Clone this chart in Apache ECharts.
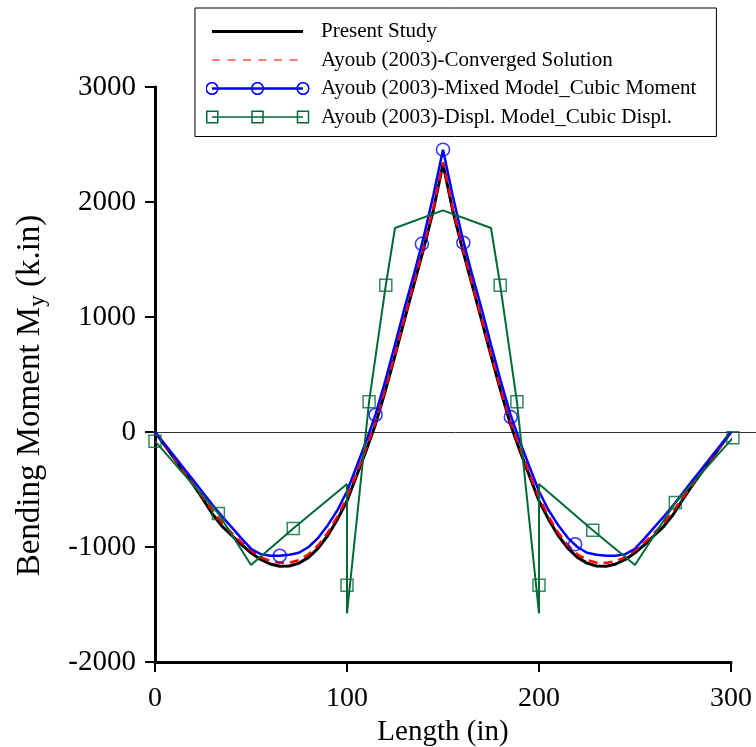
<!DOCTYPE html>
<html>
<head>
<meta charset="utf-8">
<script src="https://cdn.jsdelivr.net/npm/echarts@6/dist/echarts.min.js"></script>
<style>html,body{margin:0;padding:0;background:#fff}#c{width:756px;height:747px}</style>
</head>
<body>
<div id="c"></div>
<script>
// ---- data ----
var seriesNames = ['Present Study', 'Ayoub (2003)-Converged Solution', 'Ayoub (2003)-Mixed Model_Cubic Moment', 'Ayoub (2003)-Displ. Model_Cubic Displ.'];
var xTicks = [0, 100, 200, 300];
var yTicks = [-2000, -1000, 0, 1000, 2000, 3000];

var gridX = [0,5,10,15,20,25,30,35,40,45,50,55,60,65,70,75,80,85,90,95,100,105,110,115,120,125,130,135,140,145,150,
             155,160,165,170,175,180,185,190,195,200,205,210,215,220,225,230,235,240,245,250,255,260,265,270,275,280,285,290,295,300];

var presentY = [0,-115,-230,-345,-460,-585,-715,-820,-900,-980,-1050,-1108,-1148,-1168,-1165,-1140,-1090,-1010,-900,-760,-600,-380,-160,75,360,665,980,1290,1600,1930,2330,
                1930,1600,1290,980,665,360,75,-160,-380,-600,-760,-900,-1010,-1090,-1140,-1165,-1168,-1148,-1108,-1050,-980,-900,-820,-715,-585,-460,-345,-230,-115,0];

var convergedY = [0,-112,-225,-338,-452,-568,-685,-790,-880,-960,-1030,-1088,-1122,-1138,-1136,-1113,-1063,-985,-875,-735,-570,-360,-140,95,375,680,995,1305,1620,1950,2345,
                  1950,1620,1305,995,680,375,95,-140,-360,-570,-735,-875,-985,-1063,-1113,-1136,-1138,-1122,-1088,-1030,-960,-880,-790,-685,-568,-452,-338,-225,-112,0];

var mixedY = [0,-105,-210,-315,-420,-528,-635,-735,-830,-925,-1015,-1062,-1077,-1076,-1068,-1050,-1000,-920,-810,-680,-515,-300,-80,160,450,760,1080,1380,1700,2060,2455,
              2060,1700,1380,1080,760,450,160,-80,-300,-515,-680,-810,-920,-1000,-1050,-1068,-1076,-1077,-1062,-1015,-925,-830,-735,-635,-528,-420,-315,-210,-105,0];
var mixedMarkX = [65, 114.9, 139, 150, 160.6, 185.3, 218.8];
var mixedMarkY = [-1076, 150, 1636, 2455, 1646, 130, -976];

var displX = [0, 33, 50, 72, 100, 100, 100, 111.5, 120.2, 125, 150, 175, 179.8, 188.5, 200, 200, 200, 228, 250, 271, 301];
var displY = [-80, -709, -1157, -839, -453, -1332, -1577, 264, 1276, 1774, 1927, 1774, 1276, 264, -1577, -1332, -453, -854, -1157, -614, -49];
var displMarkX = [0, 33, 72, 100, 111.5, 120.2, 179.8, 188.5, 200, 228, 271, 301];
var displMarkY = [-80, -709, -839, -1332, 264, 1276, 1276, 264, -1332, -854, -614, -49];

// ---- build ----
var SERIF = "'Liberation Serif', 'DejaVu Serif', serif";
var BLACK = '#000000', RED = '#ff0000', BLUE = '#0000ff', GREEN = '#006b35';
function zip(xs, ys) { return xs.map(function (x, i) { return [x, ys[i]]; }); }

function svgIcon(inner) {
  var s = "<svg xmlns='http://www.w3.org/2000/svg' width='104' height='14'>" + inner + "</svg>";
  return 'image://data:image/svg+xml;charset=utf-8,' + encodeURIComponent(s);
}
var icons = [
  svgIcon("<line x1='6' y1='7' x2='97' y2='7' stroke='#000' stroke-width='3'/>"),
  svgIcon("<line x1='6' y1='7' x2='97' y2='7' stroke='#ff5050' stroke-width='1.5' stroke-dasharray='8,7.5'/>"),
  svgIcon("<line x1='6' y1='7' x2='97' y2='7' stroke='#0000ff' stroke-width='2.5'/>" +
          "<circle cx='6' cy='7' r='5.8' fill='none' stroke='#0000ff' stroke-width='1.5'/>" +
          "<circle cx='51.5' cy='7' r='5.8' fill='none' stroke='#0000ff' stroke-width='1.5'/>" +
          "<circle cx='97' cy='7' r='5.8' fill='none' stroke='#0000ff' stroke-width='1.5'/>"),
  svgIcon("<line x1='6' y1='7' x2='97' y2='7' stroke='#006b35' stroke-width='1.5'/>" +
          "<rect x='0.75' y='1.25' width='11' height='11.5' fill='none' stroke='#006b35' stroke-width='1.5'/>" +
          "<rect x='46' y='1.25' width='11' height='11.5' fill='none' stroke='#006b35' stroke-width='1.5'/>" +
          "<rect x='91.5' y='1.25' width='11' height='11.5' fill='none' stroke='#006b35' stroke-width='1.5'/>")
];

var chart = echarts.init(document.getElementById('c'), null, { renderer: 'canvas' });
var option = {
  animation: false,
  backgroundColor: '#ffffff',
  grid: { left: 155, right: 25, top: 87, bottom: 85, containLabel: false, outerBoundsMode: 'none' },
  legend: {
    orient: 'vertical', left: 195, top: 8,
    padding: [13, 20, 9, 11],
    itemWidth: 104, itemHeight: 14, itemGap: 7.5,
    borderColor: '#000', borderWidth: 1,
    selectedMode: false,
    textStyle: { fontFamily: SERIF, fontSize: 21, color: '#000', padding: [0, 0, 0, 6] },
    data: seriesNames.map(function (n, i) { return { name: n, icon: icons[i] }; })
  },
  xAxis: {
    type: 'value', min: 0, max: 300, interval: 100,
    axisLine: { show: true, onZero: false, lineStyle: { color: '#000', width: 3 } },
    axisTick: { show: true, inside: false, length: 10, lineStyle: { color: '#000', width: 2 } },
    axisLabel: { fontFamily: SERIF, fontSize: 28, color: '#000', margin: 23,
      formatter: function (v) { return xTicks.indexOf(v) >= 0 ? String(v) : ''; } },
    splitLine: { show: false },
    name: 'Length (in)', nameLocation: 'middle', nameGap: 55,
    nameTextStyle: { fontFamily: SERIF, fontSize: 29, color: '#000' }
  },
  yAxis: {
    type: 'value', min: -2000, max: 3000, interval: 1000,
    axisLine: { show: true, onZero: false, lineStyle: { color: '#000', width: 3 } },
    axisTick: { show: true, inside: false, length: 10, lineStyle: { color: '#000', width: 2 } },
    axisLabel: { fontFamily: SERIF, fontSize: 29, color: '#000', margin: 19,
      formatter: function (v) { return yTicks.indexOf(v) >= 0 ? String(v) : ''; } },
    splitLine: { show: false },
    name: 'Bending Moment M{sub|y} (k.in)', nameLocation: 'middle', nameGap: 106,
    nameTextStyle: { fontFamily: SERIF, fontSize: 33, color: '#000', padding: [0, 42, 0, 0],
      rich: { sub: { fontFamily: SERIF, fontSize: 23, color: '#000', padding: [14, 0, 0, 0] } } }
  },
  series: [
    { name: seriesNames[0], type: 'line', data: zip(gridX, presentY), showSymbol: false, symbol: 'none',
      lineStyle: { color: BLACK, width: 3 }, itemStyle: { color: BLACK }, z: 3 },
    { name: seriesNames[1], type: 'line', data: zip(gridX, convergedY), showSymbol: false, symbol: 'none',
      lineStyle: { color: RED, width: 2.5, type: [9, 6] }, itemStyle: { color: RED }, z: 4 },
    { name: seriesNames[2], type: 'line', data: zip(gridX, mixedY), showSymbol: false, symbol: 'none',
      lineStyle: { color: BLUE, width: 2.5 }, itemStyle: { color: BLUE }, z: 5 },
    { name: seriesNames[3], type: 'line', data: zip(displX, displY), showSymbol: false, symbol: 'none',
      lineStyle: { color: GREEN, width: 2 }, itemStyle: { color: GREEN }, z: 6, clip: false },
    { name: 'mixedMarks', type: 'scatter', data: zip(mixedMarkX, mixedMarkY), symbol: 'circle', symbolSize: 13,
      itemStyle: { color: 'rgba(0,0,0,0)', borderColor: BLUE, borderWidth: 1.5 }, z: 7, clip: false },
    { name: 'displMarks', type: 'scatter', data: zip(displMarkX, displMarkY), symbol: 'rect', symbolSize: 12,
      itemStyle: { color: 'rgba(0,0,0,0)', borderColor: GREEN, borderWidth: 1.5 }, z: 8, clip: false }
  ]
};
chart.setOption(option);
var y0 = Math.round(chart.convertToPixel({ yAxisIndex: 0 }, 0)) + 0.5;
var x0 = chart.convertToPixel({ xAxisIndex: 0 }, 0);
chart.setOption({
  graphic: [{ type: 'line', z: 1, silent: true,
    shape: { x1: x0, y1: y0, x2: 756, y2: y0 },
    style: { stroke: '#333', lineWidth: 1 } }]
});
</script>
</body>
</html>
